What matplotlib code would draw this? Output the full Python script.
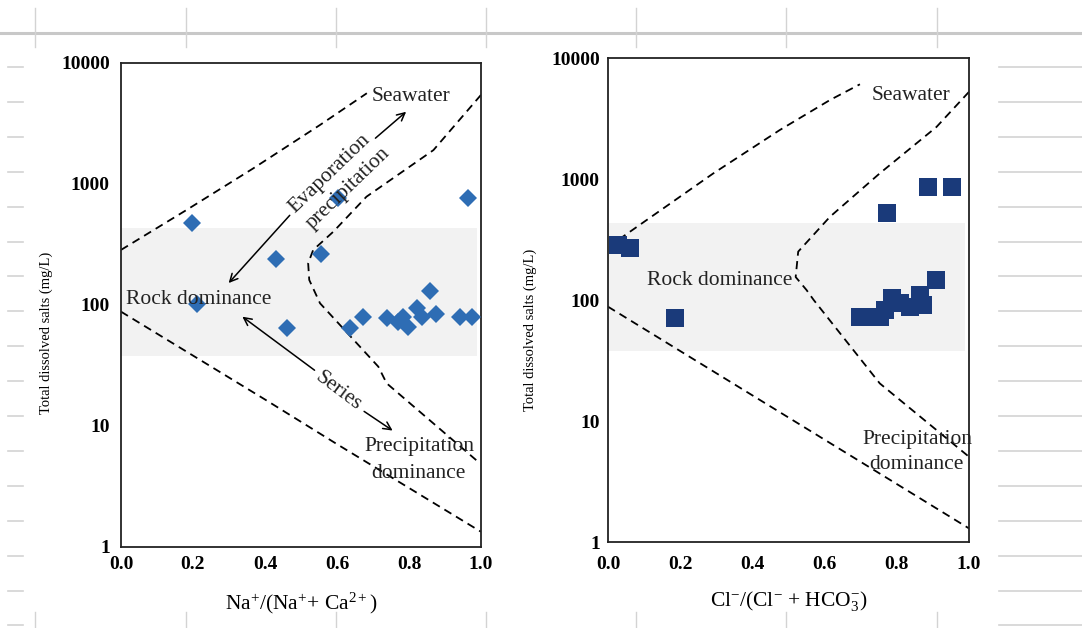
import numpy as np
import matplotlib
matplotlib.use('Agg')
import matplotlib.pyplot as plt
from matplotlib.ticker import FixedLocator, FixedFormatter

plt.rcParams['font.family'] = ['Liberation Serif', 'DejaVu Serif']
plt.rcParams['mathtext.fontset'] = 'custom'
plt.rcParams['mathtext.rm'] = 'Liberation Serif'
plt.rcParams['mathtext.it'] = 'Liberation Serif:italic'
plt.rcParams['mathtext.bf'] = 'Liberation Serif:bold'

# ---- data ----
# left panel: Na+/(Na+ + Ca2+) vs TDS
na_ratio = [0.196, 0.21, 0.43, 0.462, 0.556, 0.602, 0.636, 0.673, 0.74, 0.77,
            0.784, 0.798, 0.821, 0.835, 0.858, 0.875, 0.942, 0.965, 0.974]
na_tds = [473, 102, 240, 65, 264, 771, 65, 80, 78, 73,
          80, 66, 94, 80, 131, 85, 80, 771, 80]

# right panel: Cl-/(Cl- + HCO3-) vs TDS
cl_ratio = [0.029, 0.061, 0.186, 0.698, 0.726, 0.753, 0.767, 0.786, 0.809,
            0.837, 0.864, 0.873, 0.909, 0.772, 0.887, 0.952]
cl_tds = [285, 267, 71, 73, 73, 73, 83, 103, 94,
          88, 110, 91, 146, 527, 863, 863]

# Gibbs boundary curves (x, log10 TDS)
left_upper_x = [0.0, 0.182, 0.368, 0.553, 0.683]
left_upper_y = [2.455, 2.785, 3.13, 3.488, 3.75]
left_inner_x = [1.0, 0.868, 0.682, 0.59, 0.534, 0.52, 0.523, 0.553, 0.715, 0.738, 0.997]
left_inner_y = [3.736, 3.28, 2.895, 2.606, 2.455, 2.345, 2.207, 2.014, 1.49, 1.353, 0.692]
left_lower_x = [0.0, 0.405, 0.6, 1.0]
left_lower_y = [1.945, 1.21, 0.85, 0.126]

right_upper_x = [0.03, 0.292, 0.476, 0.615, 0.698]
right_upper_y = [2.5, 3.047, 3.405, 3.653, 3.783]
right_inner_x = [1.0, 0.91, 0.753, 0.615, 0.527, 0.52, 0.55, 0.57, 0.753, 1.0]
right_inner_y = [3.72, 3.43, 3.047, 2.688, 2.4, 2.19, 2.083, 2.0, 1.311, 0.705]
right_lower_x = [0.0, 0.707, 1.0]
right_lower_y = [1.945, 0.65, 0.113]

band_lo, band_hi = 38, 433

ytick_vals = [1, 10, 100, 1000, 10000]
ytick_labels = ['1', '10', '100', '1000', '10000']
xtick_vals = [0.0, 0.2, 0.4, 0.6, 0.8, 1.0]
xtick_labels = ['0.0', '0.2', '0.4', '0.6', '0.8', '1.0']

fig = plt.figure(figsize=(10.82, 6.28), dpi=100)

# ---- spreadsheet background in pixel coords ----
bg = fig.add_axes([0, 0, 1, 1])
bg.set_xlim(0, 1082)
bg.set_ylim(628, 0)
bg.axis('off')
grid_c = '#d3d3d3'
col_x = [35, 186, 336, 486, 636, 786, 937]
row_y = [67 + 34.9 * k for k in range(17)]
bg.plot([0, 1082], [33, 33], color='#c8c8c8', lw=2.2)
for cx in col_x:
    bg.plot([cx, cx], [8, 47], color=grid_c, lw=1)
    bg.plot([cx, cx], [612, 628], color=grid_c, lw=1)
for ry in row_y:
    bg.plot([8, 23], [ry, ry], color=grid_c, lw=1.2)
    bg.plot([999, 1082], [ry, ry], color=grid_c, lw=1.2)

dash = (0, (4.5, 3))
diamond_c = '#2E6DB4'
square_c = '#1A3A7A'


def setup(ax, xpad, ypad):
    ax.set_yscale('log')
    ax.set_xlim(0, 1)
    ax.set_ylim(1, 10000)
    ax.axhspan(band_lo, band_hi, xmin=0.0, xmax=0.99, color='#f2f2f2', lw=0, zorder=0)
    ax.yaxis.set_major_locator(FixedLocator(ytick_vals))
    ax.yaxis.set_major_formatter(FixedFormatter(ytick_labels))
    ax.yaxis.set_minor_locator(FixedLocator([]))
    ax.xaxis.set_major_locator(FixedLocator(xtick_vals))
    ax.xaxis.set_major_formatter(FixedFormatter(xtick_labels))
    ax.tick_params(length=0, labelsize=14)
    ax.tick_params(axis='x', pad=xpad)
    ax.tick_params(axis='y', pad=ypad)
    for lab in ax.get_xticklabels() + ax.get_yticklabels():
        lab.set_fontweight('bold')
    for sp in ax.spines.values():
        sp.set_linewidth(1.3)
        sp.set_color('#222222')


def dline(ax, xs, ys):
    ax.plot(xs, 10 ** np.array(ys), color='black', lw=1.3, ls=dash, zorder=2)


txt = dict(fontsize=15.5, color='#222222')
arr = dict(arrowstyle='->', color='black', lw=1.1, mutation_scale=14)

# ---- left panel ----
ax1 = fig.add_axes([0.1118, 0.129, 0.3327, 0.7707])
setup(ax1, 6.5, 8)
dline(ax1, left_upper_x, left_upper_y)
dline(ax1, left_inner_x, left_inner_y)
dline(ax1, left_lower_x, left_lower_y)
ax1.plot(na_ratio, na_tds, 'D', color=diamond_c, ms=9.2, mew=0, zorder=3)
ax1.text(0.807, 5250, 'Seawater', ha='center', va='center', **txt)
ax1.text(0.215, 110, 'Rock dominance', ha='center', va='center', **txt)
ax1.text(0.828, 6.75, 'Precipitation', ha='center', va='center', **txt)
ax1.text(0.825, 4.08, 'dominance', ha='center', va='center', **txt)
ax1.text(0.581, 1225, 'Evaporation', ha='center', va='center', rotation=44,
         rotation_mode='anchor', **txt)
ax1.text(0.631, 922, 'precipitation', ha='center', va='center', rotation=44,
         rotation_mode='anchor', **txt)
ax1.text(0.603, 19.5, 'Series', ha='center', va='center', rotation=-37,
         rotation_mode='anchor', **txt)
ax1.annotate('', xy=(0.294, 146), xytext=(0.474, 573), arrowprops=arr)
ax1.annotate('', xy=(0.798, 4090), xytext=(0.701, 2310), arrowprops=arr)
ax1.annotate('', xy=(0.331, 82.6), xytext=(0.544, 28), arrowprops=arr)
ax1.annotate('', xy=(0.761, 8.9), xytext=(0.669, 13.6), arrowprops=arr)
ax1.set_ylabel('Total dissolved salts (mg/L)', fontsize=10.5)
ax1.yaxis.set_label_coords(-0.189, 0.442)
ax1.set_xlabel(r'Na$^{+}$/(Na$^{+}$+ Ca$^{2+}$)', fontsize=15.5)
ax1.xaxis.set_label_coords(0.5, -0.091)

# ---- right panel ----
ax2 = fig.add_axes([0.5619, 0.1369, 0.3336, 0.7707])
setup(ax2, 10, 5.8)
dline(ax2, right_upper_x, right_upper_y)
dline(ax2, right_inner_x, right_inner_y)
dline(ax2, right_lower_x, right_lower_y)
ax2.plot(cl_ratio, cl_tds, 's', color=square_c, ms=12.8, mew=0, zorder=3)
ax2.text(0.839, 4940, 'Seawater', ha='center', va='center', **txt)
ax2.text(0.31, 146, 'Rock dominance', ha='center', va='center', **txt)
ax2.text(0.857, 6.97, 'Precipitation', ha='center', va='center', **txt)
ax2.text(0.855, 4.41, 'dominance', ha='center', va='center', **txt)
ax2.set_ylabel('Total dissolved salts (mg/L)', fontsize=10.5)
ax2.yaxis.set_label_coords(-0.197, 0.438)
ax2.set_xlabel(r'Cl$^{-}$/(Cl$^{-}$ + HCO$_3^{-}$)', fontsize=15.5)
ax2.xaxis.set_label_coords(0.5, -0.097)

fig.savefig('out.png', dpi=100)
